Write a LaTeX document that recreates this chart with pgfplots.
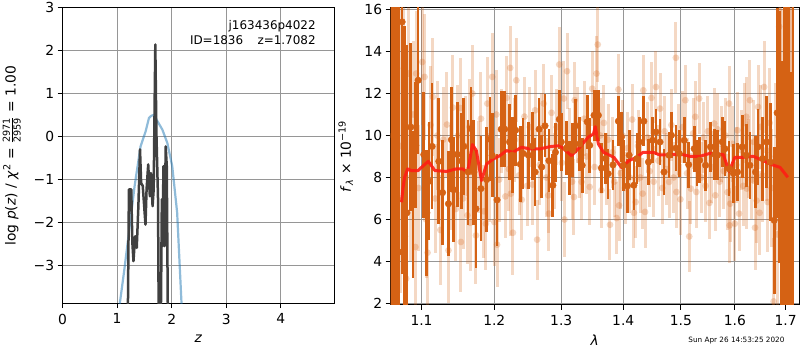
\documentclass[border=0pt]{standalone}
\usepackage{fontspec}
\setmainfont{DejaVu Sans}
\usepackage{pgfplots}
\pgfplotsset{compat=1.18}
\usepackage{pgfplotstable}
\definecolor{darkor}{RGB}{213,98,20}
\definecolor{zblue}{RGB}{31,119,180}
\definecolor{zblack}{RGB}{64,64,64}
\definecolor{gridgray}{RGB}{150,150,150}
\definecolor{modred}{RGB}{255,30,20}

\pgfplotstableread{
x y
1.02 -4.30
1.05 -3.88
1.125 -3.17
1.217 -2.24
1.32 -1.16
1.43 -0.23
1.523 0.12
1.584 0.43
1.625 0.48
1.664 0.50
1.70 0.45
1.737 0.36
1.829 0.16
1.92 -0.15
2.01 -0.69
2.10 -1.77
2.18 -3.88
2.20 -4.40
}\pzprior

\pgfplotstableread{
x y
1.195 -6.0
1.199 -3.88
1.217 -1.23
1.26 -1.23
1.27 -1.9
1.28 -2.47
1.30 -2.90
1.33 -2.32
1.36 -2.59
1.39 -1.62
1.42 -0.30
1.44 -1.08
1.47 -1.15
1.52 -2.05
1.54 -1.23
1.57 -0.65
1.60 -1.39
1.62 -0.85
1.65 -1.62
1.67 -1.23
1.70 2.14
1.72 0.09
1.75 -1.46
1.77 -6.0
1.79 -6.0
1.82 -1.46
1.83 -2.55
1.85 -0.69
1.87 -2.55
1.89 -0.23
1.91 -0.69
1.94 -6.0
}\pzfit

\pgfplotstableread{
x y e
1.063 10 10
1.066 12 9
1.069 7 8
1.073 9.5 7
1.077 13.2 6
1.08 3.18 5
1.083 12.95 4.5
1.086 8.0 4
1.089 11.0 3.5
1.092 4.69 3
1.093 12.95 3
1.096 7.5 3
1.101 13.5 3
1.104 12.79 3
1.106 6.0 2.8
1.108 4.42 2.8
1.112 10.5 2.8
1.115 11.84 2.8
1.118 7.0 2.6
1.121 10.0 2.6
1.125 5.5 2.6
1.129 9.8 2.5
1.134 10.52 2.5
1.136 4.53 2.5
1.139 8.0 2.5
1.142 11.33 2.5
1.146 6.5 2.5
1.149 10.0 2.4
1.152 11.31 2.4
1.153 4.93 2.4
1.156 7.0 2.4
1.159 9.5 2.4
1.162 6.2 2.3
1.165 10.41 2.3
1.166 5.84 2.3
1.169 12.0 2.3
1.174 5.24 2.3
1.177 8.5 2.2
1.181 10.8 2.2
1.185 6.39 2.2
1.188 5.8 2.2
1.19 11.52 2.2
1.193 8.0 2.1
1.197 12.79 2.1
1.2 5.88 2.1
1.203 11.0 2.1
1.204 4.8 2.0
1.207 7.9 2.0
1.211 10.2 2.0
1.216 7.1 2.0
1.218 11.79 2.0
1.221 8.4 2.0
1.223 13.22 2.0
1.224 7.23 2.0
1.227 5.37 2.0
1.23 9.8 2.0
1.232 12.63 2.0
1.236 8.1 1.9
1.24 6.94 1.9
1.244 10.9 1.9
1.248 7.6 1.9
1.252 10.4 1.9
1.256 7.66 1.9
1.26 11.2 1.9
1.263 5.04 1.9
1.267 8.6 1.9
1.27 10.1 1.9
1.273 11.52 1.9
1.277 8.0 1.9
1.28 7.15 1.8
1.281 6.28 1.8
1.285 11.08 1.8
1.289 8.3 1.8
1.293 10.4 1.8
1.297 13.38 1.8
1.301 8.7 1.8
1.304 11.76 1.8
1.305 6.0 1.8
1.309 13.06 1.8
1.313 9.5 1.8
1.317 7.8 1.8
1.32 7.07 1.8
1.321 11.68 1.8
1.325 10.5 1.8
1.329 8.8 1.8
1.332 7.79 1.8
1.336 10.8 1.8
1.34 9.0 1.8
1.345 7.55 1.8
1.349 12.23 1.8
1.353 8.5 1.8
1.356 12.95 1.8
1.358 14.33 1.8
1.362 10.0 1.8
1.364 7.39 1.8
1.368 10.6 1.8
1.372 8.4 1.7
1.375 9.8 1.7
1.378 5.75 1.7
1.382 9.2 1.7
1.385 7.8 1.7
1.389 6.07 1.7
1.392 12.19 1.7
1.393 6.67 1.7
1.396 8.2 1.7
1.399 10.0 1.7
1.403 7.5 1.7
1.407 9.4 1.7
1.411 8.0 1.7
1.415 10.76 1.7
1.418 6.32 1.7
1.421 6.83 1.7
1.425 9.5 1.7
1.429 8.0 1.7
1.433 7.23 1.7
1.434 12.15 1.7
1.437 6.36 1.7
1.441 9.9 1.7
1.445 8.3 1.7
1.448 11.79 1.7
1.452 7.8 1.7
1.456 12.31 1.7
1.46 8.8 1.7
1.463 11.28 1.7
1.467 7.5 1.7
1.471 10.2 1.7
1.475 8.4 1.7
1.479 7.79 1.7
1.483 10.5 1.7
1.487 8.0 1.7
1.491 13.7 1.7
1.492 7.31 1.7
1.495 9.8 1.7
1.499 6.96 1.7
1.503 10.4 1.7
1.508 11.68 1.7
1.511 8.2 1.7
1.515 5.19 1.7
1.518 7.47 1.7
1.522 10.1 1.7
1.526 10.89 1.7
1.528 7.31 1.7
1.533 11.76 1.7
1.537 8.0 1.7
1.541 9.9 1.7
1.545 7.6 1.7
1.549 10.2 1.7
1.552 6.79 1.7
1.556 8.5 1.7
1.561 10.57 1.7
1.563 7.15 1.7
1.567 10.3 1.7
1.571 7.8 1.7
1.575 9.6 1.8
1.579 8.3 1.8
1.582 10.0 1.8
1.586 7.3 1.8
1.589 11.52 1.8
1.590 5.72 1.8
1.591 6.75 1.8
1.595 9.6 1.8
1.6 5.8 1.8
1.603 8.6 1.8
1.605 10.25 1.8
1.608 6.28 1.8
1.612 9.3 1.9
1.616 7.6 1.9
1.619 10.6 1.9
1.622 10.89 1.9
1.623 7.47 1.9
1.627 8.9 1.9
1.629 11.68 1.9
1.633 7.9 1.9
1.636 9.7 2.0
1.639 5.61 2.0
1.642 6.9 2.0
1.645 11.36 2.0
1.648 6.32 2.0
1.65 10.41 2.0
1.654 8.1 2.2
1.657 12.31 2.2
1.661 9.3 2.4
1.664 6.83 2.4
1.668 10.6 2.6
1.672 7.5 2.8
1.676 2.1 3
1.68 9.0 3.5
1.683 5.29 4
1.687 15.18 5
1.69 11.5 7
1.694 7.0 9
1.698 3.42 10
1.701 13 12
1.705 6 14
1.709 10 14
1.713 16.5 15
}\lightdata

\pgfplotstableread{
x y e
1.0615 18.0 20
1.0645 0.5 18
1.0675 17.5 20
1.0709 4.45 12
1.0748 15.41 12
1.078 5.2 10
1.081 6.32 8
1.086 10.4 4
1.089 6.7 3.5
1.0925 9.53 3
1.0955 12.63 3.5
1.103 9.09 3
1.107 6.32 3
1.11 7.82 2.8
1.114 9.48 3
1.123 8.77 3
1.128 7.28 2.5
1.136 6.75 2.5
1.14 9.8 2.5
1.143 7.42 2.5
1.148 9.1 2.5
1.154 8.79 2.3
1.157 9.48 2.3
1.163 8.26 2.5
1.167 10.33 2
1.171 8.26 2.5
1.174 6.51 2.8
1.181 7.47 2.5
1.189 7.9 2.5
1.194 9.82 2
1.197 9.05 2
1.204 6.93 2.2
1.21 10.3 1.8
1.215 10.3 1.8
1.222 9.69 1.8
1.226 9.06 1.8
1.231 10.25 1.7
1.238 8.63 1.8
1.242 9.14 1.7
1.25 9.06 1.6
1.256 9.5 1.6
1.26 8.26 1.6
1.266 10.3 1.5
1.27 8.5 1.5
1.275 10.46 1.5
1.281 8.8 1.5
1.287 7.63 1.5
1.291 9.2 1.4
1.297 10.77 1.4
1.3 9.69 1.4
1.308 9.4 1.3
1.313 8.45 1.3
1.318 9.3 1.3
1.322 10.46 1.3
1.329 9.6 1.3
1.333 8.58 1.3
1.341 10.65 1.3
1.345 9.53 1.3
1.352 10.96 1.2
1.356 10.96 1.2
1.359 10.96 1.2
1.364 8.45 1.2
1.371 8.9 1.2
1.375 8.18 1.2
1.383 8.6 1.2
1.392 10.68 1.2
1.397 9.93 1.2
1.4 8.58 1.2
1.407 7.6 1.3
1.41 9.06 1.2
1.418 7.63 1.2
1.423 8.9 1.2
1.427 9.69 1.2
1.435 10.68 1.2
1.443 8.74 1.1
1.45 9.77 1.1
1.456 10.17 1.1
1.463 9.69 1.1
1.47 8.26 1.1
1.479 9.06 1.1
1.483 10.01 1.1
1.491 9.4 1.1
1.497 9.14 1.1
1.506 9.77 1.1
1.514 8.61 1.1
1.524 9.37 1.1
1.529 8.7 1.1
1.534 8.82 1.1
1.545 8.58 1.2
1.554 9.46 1.2
1.562 9.1 1.2
1.567 9.06 1.2
1.576 9.7 1.2
1.581 9.37 1.3
1.589 8.42 1.3
1.597 8.2 1.4
1.605 8.26 1.4
1.614 9.46 1.5
1.622 9.06 1.5
1.629 8.58 1.6
1.64 8.26 1.7
1.645 9.46 1.8
1.654 8.9 2
1.662 9.69 2.2
1.669 8.74 2.8
1.677 5.96 3.5
1.683 11.08 5
1.687 9.93 6
1.692 5.56 8
1.698 9.72 12
1.702 5.0 15
1.706 20 22
1.71 -2 15
1.715 18 20
}\darkdata

\pgfplotstableread{
x y
1.074 6.82
1.076 7.53
1.078 8.01
1.082 8.41
1.0866 8.33
1.0955 8.33
1.1023 8.56
1.109 8.77
1.1177 8.33
1.1334 8.29
1.1468 8.41
1.1555 8.41
1.1624 8.25
1.169 9.57
1.1745 9.28
1.1818 7.85
1.189 8.64
1.1985 8.88
1.208 9.04
1.2177 9.28
1.227 9.20
1.2397 9.44
1.252 9.36
1.267 9.36
1.2826 9.47
1.2978 9.52
1.316 9.04
1.329 9.44
1.3426 9.92
1.351 10.07
1.354 10.42
1.359 9.60
1.3675 9.20
1.3845 8.96
1.397 8.48
1.4095 8.80
1.4225 8.96
1.4336 9.20
1.451 9.20
1.4628 9.07
1.486 9.09
1.4982 9.12
1.516 9.01
1.5345 9.01
1.553 9.15
1.578 9.09
1.589 8.29
1.600 8.96
1.616 8.96
1.6355 9.01
1.6553 8.80
1.6686 8.64
1.689 8.48
1.7045 8.01
}\model

\pgfplotsset{
  chartbase/.style={
    scale only axis,
    axis line style={black, line width=1bp},
    tick style={black, line width=1bp},
    major tick length=4.9bp,
    tick align=outside,
    tick pos=left,
    grid=major,
    grid style={draw=gridgray, line width=1bp},
    ticklabel style={font=\fontsize{13.9}{16}\selectfont},
    xticklabel style={yshift=-2bp},
    label style={font=\fontsize{13.9}{16}\selectfont},
    /pgf/number format/assume math mode=true,
    clip=true,
  }
}

\begin{document}
\begin{tikzpicture}
\path[use as bounding box] (0,0) rectangle (800bp,350bp);

\begin{axis}[chartbase,
  at={(62.5bp,46.66bp)}, anchor=south west,
  width=271.6bp, height=295.84bp,
  xmin=0, xmax=4.975, ymin=-3.88, ymax=3,
  xtick={0,1,2,3,4},
  ytick={-3,-2,-1,0,1,2,3},
  yticklabels={−3,−2,−1,0,1,2,3},
  xlabel={\textit{z}},
  xlabel style={at={(axis description cs:0.5,-0.121)}, anchor=center},
  ylabel={log \textit{p}(\textit{z}) / \textit{χ}\textsuperscript{2} = $\frac{\hbox{\fontsize{9.7}{9.7}\selectfont 2971}}{\hbox{\fontsize{9.7}{9.7}\selectfont 2959}}$ = 1.00},
  ylabel style={at={(axis description cs:-0.187,0.5)}, anchor=center},
]
\addplot[zblue, opacity=0.5, line width=2.2bp] table[x=x,y=y]{\pzprior};
\addplot[zblack, line width=2.5bp, line join=round] table[x=x,y=y]{\pzfit};
\node[anchor=base east, font=\fontsize{12}{14}\selectfont] at (axis description cs:0.945,0.926) {j163436p4022};
\node[anchor=base east, font=\fontsize{12}{14}\selectfont] at (axis description cs:0.945,0.875) {ID=1836\hspace{1.2em}z=1.7082};
\end{axis}

\begin{axis}[chartbase,
  at={(390.5bp,45.24bp)}, anchor=south west,
  width=408.5bp, height=296.94bp,
  xmode=log,
  xmin=1.05996, xmax=1.7275, ymin=1.94, ymax=16.08,
  xtick={1.1,1.2,1.3,1.4,1.5,1.6,1.7},
  xticklabels={1.1,1.2,1.3,1.4,1.5,1.6,1.7},
  xminorticks=false,
  ytick={2,4,6,8,10,12,14,16},
  xlabel={\textit{λ}},
  xlabel style={at={(axis description cs:0.5,-0.121)}, anchor=center},
  ylabel={\textit{f}\textsubscript{\textit{λ}} × 10\textsuperscript{−19}},
  ylabel style={at={(axis description cs:-0.1095,0.5)}, anchor=center},
]
\addplot[only marks, color=darkor, mark=*, mark size=3.4bp,
  mark options={draw opacity=0, fill opacity=0.25},
  error bars/.cd, y dir=both, y explicit, error mark=none,
  error bar style={color=darkor, line width=3bp, opacity=0.25}]
  table[x=x,y=y,y error=e]{\lightdata};
\addplot[only marks, color=darkor, mark=*, mark size=3.3bp,
  error bars/.cd, y dir=both, y explicit, error mark=none,
  error bar style={color=darkor, line width=2.7bp}]
  table[x=x,y=y,y error=e]{\darkdata};
\addplot[modred, opacity=0.9, line width=3bp, line join=round] table[x=x,y=y]{\model};
\end{axis}

\node[anchor=base east, font=\fontsize{7.3}{9}\selectfont] at (788bp,8bp) {Sun Apr 26 14:53:25 2020};
\end{tikzpicture}
\end{document}
